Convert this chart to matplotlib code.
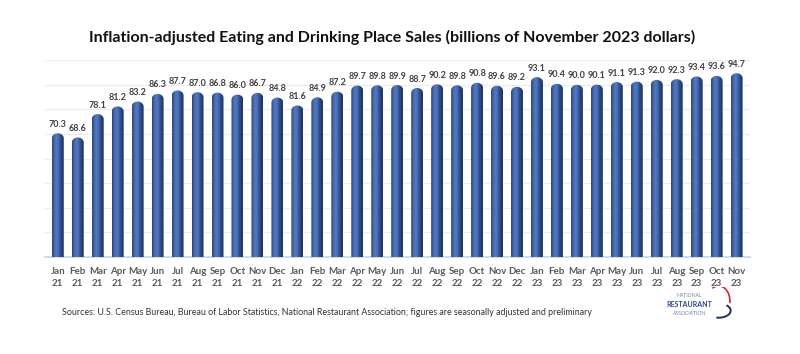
import numpy as np
import matplotlib
matplotlib.use('Agg')
import matplotlib.pyplot as plt
from matplotlib.path import Path
from matplotlib.patches import PathPatch, Arc

plt.rcParams['font.family'] = ['Lato', 'DejaVu Sans']

months = ['Jan', 'Feb', 'Mar', 'Apr', 'May', 'Jun', 'Jul', 'Aug', 'Sep', 'Oct', 'Nov', 'Dec']
years = ['21'] * 12 + ['22'] * 12 + ['23'] * 11
labels = [f'{m}\n{y}' for m, y in zip(months * 3, years)]
sales = [70.3, 68.6, 78.1, 81.2, 83.2, 86.3, 87.7, 87.0, 86.8, 86.0, 86.7, 84.8,
         81.6, 84.9, 87.2, 89.7, 89.8, 89.9, 88.7, 90.2, 89.8, 90.8, 89.6, 89.2,
         93.1, 90.4, 90.0, 90.1, 91.1, 91.3, 92.0, 92.3, 93.4, 93.6, 94.7]

fig = plt.figure(figsize=(8, 3.54), dpi=100)
ax = fig.add_axes([0.056, 0.274, 0.881, 0.556])
x = np.arange(len(sales))
ax.set_xlim(-0.65, len(sales) - 0.35)
ax.set_ylim(20, 100)
ax.set_yticks(np.arange(20, 101, 10))
ax.yaxis.grid(True, color='#ececec', linewidth=0.8)
ax.set_axisbelow(True)
for s in ['left', 'right', 'top']:
    ax.spines[s].set_visible(False)
ax.spines['bottom'].set_color('#c9d3e3')
ax.spines['bottom'].set_linewidth(1.2)
ax.tick_params(left=False, labelleft=False, bottom=False, pad=4)
ax.set_xticks(x)
ax.set_xticklabels(labels, fontsize=7, color='#595959', fontweight='bold', linespacing=1.35)

w = 0.6
bars = ax.bar(x, sales, width=w, bottom=20, color='none', edgecolor='none')

# cap height in data units so the top looks round on screen
px_x = ax.transData.transform((1, 0))[0] - ax.transData.transform((0, 0))[0]
px_y = ax.transData.transform((0, 1))[1] - ax.transData.transform((0, 0))[1]
cap = (w * px_x / 2) / px_y * 0.85

grad = np.linspace(0, 1, 64)
shade = np.exp(-((grad - 0.38) ** 2) / 0.12)
dark = np.array([0x1c, 0x33, 0x66]) / 255
light = np.array([0x4f, 0x78, 0xc0]) / 255
img = (dark[None, :] + (light - dark)[None, :] * shade[:, None])[None, :, :]

t = np.linspace(0, np.pi, 30)
for b, v in zip(bars, sales):
    x0 = b.get_x()
    xc = x0 + w / 2
    top = v - cap
    verts = [(x0, 20), (x0 + w, 20), (x0 + w, top)]
    verts += list(zip(xc + (w / 2) * np.cos(t), top + cap * np.sin(t)))
    verts += [(x0, 20)]
    codes = [Path.MOVETO] + [Path.LINETO] * (len(verts) - 2) + [Path.CLOSEPOLY]
    clip = PathPatch(Path(verts, codes), transform=ax.transData, facecolor='none', edgecolor='none')
    ax.add_patch(clip)
    im = ax.imshow(img, extent=[x0, x0 + w, 20, v], aspect='auto', zorder=3, interpolation='bilinear')
    im.set_clip_path(clip)
    ax.text(xc, v + 1.8, f'{v:.1f}', ha='center', va='bottom', fontsize=6.5,
            fontweight='bold', color='#404040')

fig.text(0.49, 0.895, 'Inflation-adjusted Eating and Drinking Place Sales (billions of November 2023 dollars)',
         ha='center', va='center', fontsize=11.5, fontweight='bold', color='#111111')
fig.text(0.078, 0.116, 'Sources: U.S. Census Bureau, Bureau of Labor Statistics, National Restaurant Association; '
         'figures are seasonally adjusted and preliminary', ha='left', va='center', fontsize=6.4, color='#333333')

# logo
lg = fig.add_axes([0.825, 0.09, 0.095, 0.1])
lg.set_xlim(0, 10)
lg.set_ylim(0, 4)
lg.axis('off')
lg.text(3.9, 3.0, 'NATIONAL', ha='center', va='center', fontsize=3.6, color='#6b7fa6')
lg.text(3.9, 2.0, 'RESTAURANT', ha='center', va='center', fontsize=5.0, fontweight='bold', color='#2a4a8a')
lg.text(3.9, 1.0, 'ASSOCIATION', ha='center', va='center', fontsize=3.6, color='#6b7fa6')
lg.add_patch(Arc((7.7, 2.4), 3.0, 3.4, theta1=-10, theta2=120, color='#c8283c', lw=1.2))
lg.add_patch(Arc((7.7, 1.3), 3.2, 1.6, theta1=-110, theta2=30, color='#1f2f5a', lw=1.4))

fig.savefig('out.png', dpi=100, facecolor='white')
